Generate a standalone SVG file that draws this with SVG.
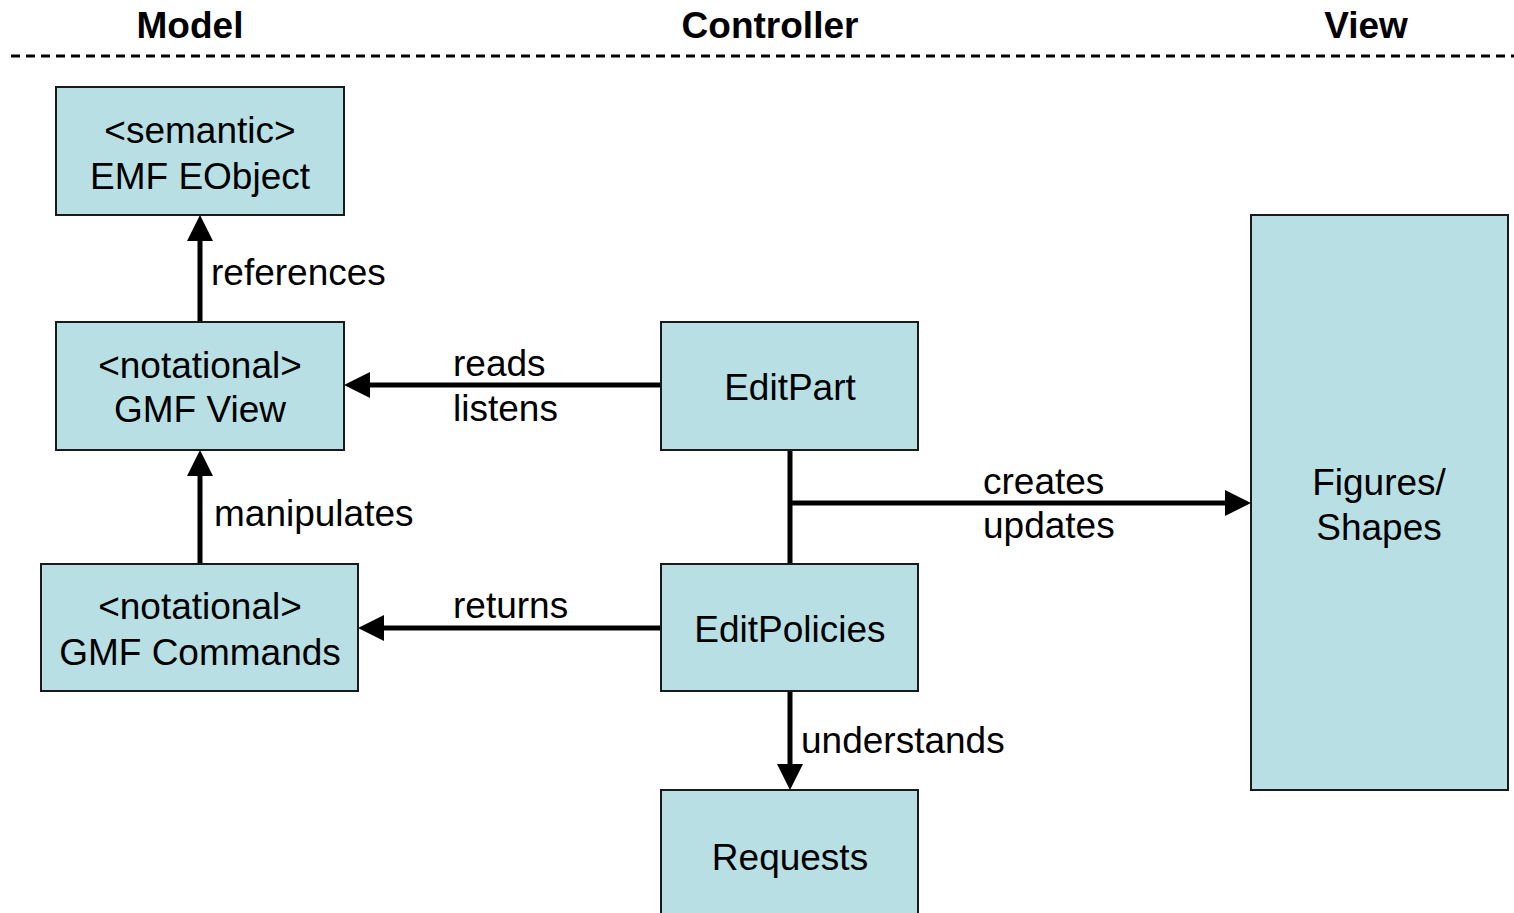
<svg xmlns="http://www.w3.org/2000/svg" width="1514" height="913" viewBox="0 0 1514 913">
<style>
.box{fill:#B8DFE3;stroke:#1a1a1a;stroke-width:2}
.t{font-family:"Liberation Sans",Arial,sans-serif;font-size:37px;fill:#000}
.c{text-anchor:middle}
.h{font-family:"Liberation Sans",Arial,sans-serif;font-size:37px;font-weight:bold;text-anchor:middle;fill:#000}
.ln{stroke:#000;stroke-width:5;fill:none}
</style>
<defs>
<marker id="ah" viewBox="0 0 26 26" refX="0" refY="13" markerWidth="26" markerHeight="26" markerUnits="userSpaceOnUse" orient="auto">
<path d="M0,0 L26,13 L0,26 z" fill="#000"/>
</marker>
</defs>
<rect width="1514" height="913" fill="#fff"/>
<g id="header">
<text class="h" x="190" y="38">Model</text>
<text class="h" x="770" y="38">Controller</text>
<text class="h" x="1366" y="38">View</text>
<line x1="11" y1="56" x2="1514" y2="56" stroke="#000" stroke-width="3" stroke-dasharray="9,6"/>
</g>
<g id="connectors">
<line class="ln" x1="200" y1="322" x2="200" y2="241" marker-end="url(#ah)"/>
<line class="ln" x1="661" y1="385" x2="370" y2="385" marker-end="url(#ah)"/>
<line class="ln" x1="200" y1="564" x2="200" y2="476" marker-end="url(#ah)"/>
<line class="ln" x1="790" y1="450" x2="790" y2="564"/>
<line class="ln" x1="790" y1="503" x2="1225" y2="503" marker-end="url(#ah)"/>
<line class="ln" x1="661" y1="628" x2="384" y2="628" marker-end="url(#ah)"/>
<line class="ln" x1="790" y1="691" x2="790" y2="764" marker-end="url(#ah)"/>
<text class="t" x="211" y="285">references</text>
<text class="t" x="453" y="376">reads</text>
<text class="t" x="453" y="421">listens</text>
<text class="t" x="214" y="526">manipulates</text>
<text class="t" x="983" y="494">creates</text>
<text class="t" x="983" y="538">updates</text>
<text class="t" x="453" y="618">returns</text>
<text class="t" x="801" y="753">understands</text>
</g>
<g id="emf-eobject">
<rect class="box" x="56" y="87" width="288" height="128"/>
<text class="t c" x="200" y="143">&lt;semantic&gt;</text>
<text class="t c" x="200" y="189">EMF EObject</text>
</g>
<g id="gmf-view">
<rect class="box" x="56" y="322" width="288" height="128"/>
<text class="t c" x="200" y="378">&lt;notational&gt;</text>
<text class="t c" x="200" y="422">GMF View</text>
</g>
<g id="gmf-commands">
<rect class="box" x="41" y="564" width="317" height="127"/>
<text class="t c" x="200" y="619">&lt;notational&gt;</text>
<text class="t c" x="200" y="665">GMF Commands</text>
</g>
<g id="editpart">
<rect class="box" x="661" y="322" width="257" height="128"/>
<text class="t c" x="790" y="400">EditPart</text>
</g>
<g id="editpolicies">
<rect class="box" x="661" y="564" width="257" height="127"/>
<text class="t c" x="790" y="642">EditPolicies</text>
</g>
<g id="requests">
<rect class="box" x="661" y="790" width="257" height="130"/>
<text class="t c" x="790" y="870">Requests</text>
</g>
<g id="figures-shapes">
<rect class="box" x="1251" y="215" width="257" height="575"/>
<text class="t c" x="1379" y="495">Figures/</text>
<text class="t c" x="1379" y="540">Shapes</text>
</g>
</svg>
